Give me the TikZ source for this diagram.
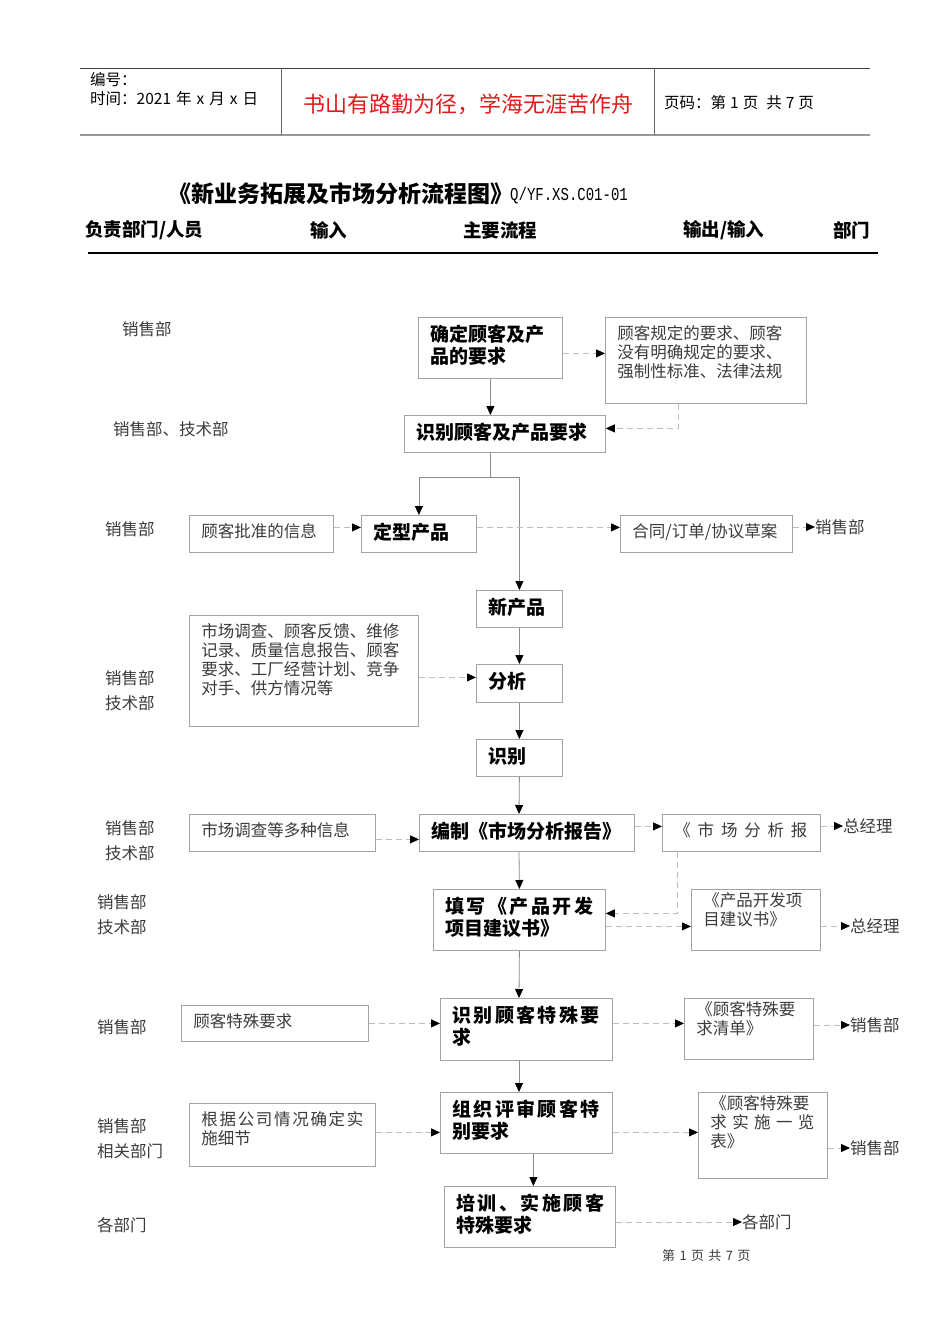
\documentclass[tikz,border=0pt]{standalone}
\usepackage{fontspec}
\setmainfont{Noto Sans CJK SC}
\newfontfamily\codefont{Liberation Mono}
\usepackage{xcolor}
\usepackage{graphicx}
\usetikzlibrary{arrows.meta,calc}
\definecolor{boxgray}{HTML}{A3A3A3}
\definecolor{flowgray}{HTML}{8C8C8C}
\definecolor{dashgray}{HTML}{BDBDBD}
\definecolor{textgray}{HTML}{3C3C3C}
\definecolor{mottored}{HTML}{E2191C}
\newcommand{\plainsize}{\fontsize{16.5}{19}\selectfont}
\newcommand{\boldsize}{\fontsize{19}{22}\selectfont\bfseries}
\newcommand{\rolesize}{\fontsize{16.5}{25}\selectfont}
\newcommand{\headsize}{\fontsize{18.5}{22}\selectfont\bfseries}
\newcommand{\cell}[4][8]{\parbox[c][#3pt][t]{#2pt}{\vspace*{#1pt}\leftskip=12pt\relax #4}}
\newcommand{\spreadline}[2]{\makebox[#1pt][s]{#2}}

\begin{document}
\begin{tikzpicture}[x=1pt,y=-1pt,
  flowbox/.style={draw=boxgray,line width=0.8pt,inner sep=0pt,anchor=north west,font=\boldsize},
  inbox/.style={flowbox,font=\plainsize,text=textgray},
  role/.style={anchor=west,inner sep=0pt,align=left,font=\rolesize,text=textgray},
  colhead/.style={anchor=west,inner sep=0pt,font=\headsize},
  flow/.style={draw=flowgray,line width=0.8pt,-{Triangle[length=9pt,width=8pt,color=black]}},
  dashflow/.style={flow,draw=dashgray,dash pattern=on 6pt off 4pt}]
  \useasboundingbox[fill=white] (0,0) rectangle (950,1344);

  % page head
  \draw[black!75,line width=0.9pt] (80,68) -- (870,68);
  \draw[black!40,line width=1.5pt] (80,135) -- (870,135);
  \foreach \x in {281,654} \draw[black!60,line width=0.9pt] (\x,68) -- (\x,135);
  \node[anchor=west,inner sep=0pt,font=\fontsize{15.5}{18}\selectfont] (hnum) at (90,80) {编号：};
  \node[anchor=west,inner sep=0pt,font=\fontsize{15.5}{18}\selectfont] (hdate) at (90,99) {时间：2021\hspace{5pt}年\hspace{5pt}x\hspace{5pt}月\hspace{5pt}x\hspace{5pt}日};
  \node[inner sep=0pt,font=\fontsize{22}{26}\selectfont,text=mottored] (motto) at (468,104) {书山有路勤为径，学海无涯苦作舟};
  \node[anchor=west,inner sep=0pt,font=\fontsize{15.5}{18}\selectfont] (hpage) at (664,103) {页码：第\hspace{4pt}1\hspace{4pt}页\hspace{8pt}共\hspace{4pt}7\hspace{4pt}页};

  % title and columns
  \node[anchor=west,inner sep=0pt,font=\fontsize{23}{27}\selectfont\bfseries] (title) at (168,194) {《新业务拓展及市场分析流程图》};
  \node[anchor=west,inner sep=0pt,font=\codefont\fontsize{14}{16}\selectfont] (code) at (510,196) {\scalebox{1}[1.3]{Q/YF.XS.C01-01}};
  \node[colhead] (col1) at (85,230) {负责部门/人员};
  \node[colhead] (col2) at (310,230) {输入};
  \node[colhead] (col3) at (463,230) {主要流程};
  \node[colhead] (col4) at (683,230) {输出/输入};
  \node[colhead] (col5) at (833,230) {部门};
  \draw[black,line width=1.6pt] (88,253) -- (878,253);

  % responsible departments
  \node[role] (dept1) at (122,329) {销售部};
  \node[role] (dept2) at (113,429) {销售部、技术部};
  \node[role] (dept3) at (105,529) {销售部};
  \node[role] (dept4) at (105,690.5) {销售部\\技术部};
  \node[role] (dept5) at (105,840.5) {销售部\\技术部};
  \node[role] (dept6) at (97,914.5) {销售部\\技术部};
  \node[role] (dept7) at (97,1027) {销售部};
  \node[role] (dept8) at (97,1138.5) {销售部\\相关部门};
  \node[role] (dept9) at (97,1225) {各部门};

  % main process
  \node[flowbox] (b1) at (418,317) {\cell{144}{61}{确定顾客及产\\品的要求}};
  \node[flowbox] (b2) at (404,415) {\cell{201}{37}{识别顾客及产品要求}};
  \node[flowbox] (b3) at (361,515) {\cell{115}{37}{定型产品}};
  \node[flowbox] (b4) at (476,590) {\cell{86}{37}{新产品}};
  \node[flowbox] (b5) at (476,664) {\cell{86}{38}{分析}};
  \node[flowbox] (b6) at (476,739) {\cell{86}{37}{识别}};
  \node[flowbox] (b7) at (419,814) {\cell{215}{37}{编制《市场分析报告》}};
  \node[flowbox] (b8) at (433,889) {\cell{172}{61}{\spreadline{148}{填\hfill 写\hfill 《\hfill 产\hfill 品\hfill 开\hfill 发}\\项目建议书》}};
  \node[flowbox] (b9) at (440,998) {\cell{172}{62}{\spreadline{147}{识\hfill 别\hfill 顾\hfill 客\hfill 特\hfill 殊\hfill 要}\\求}};
  \node[flowbox] (b10) at (440,1092) {\cell{172}{61}{\spreadline{147}{组\hfill 织\hfill 评\hfill 审\hfill 顾\hfill 客\hfill 特}\\别要求}};
  \node[flowbox] (b11) at (444,1186) {\cell{171}{61}{\spreadline{148}{培\hfill 训\hfill 、\hfill 实\hfill 施\hfill 顾\hfill 客}\\特殊要求}};

  % inputs
  \node[inbox] (in3) at (189,515) {\cell{144}{37}{顾客批准的信息}};
  \node[inbox] (in5) at (189,615) {\cell{229}{111}{市场调查、顾客反馈、维修\\记录、质量信息报告、顾客\\要求、工厂经营计划、竞争\\对手、供方情况等}};
  \node[inbox] (in7) at (189,814) {\cell{186}{37}{市场调查等多种信息}};
  \node[inbox] (in9) at (181,1005) {\cell{187}{36}{顾客特殊要求}};
  \node[inbox] (in10) at (189,1103) {\cell{186}{63}{\spreadline{162}{根\hfill 据\hfill 公\hfill 司\hfill 情\hfill 况\hfill 确\hfill 定\hfill 实}\\施细节}};

  % outputs
  \node[inbox] (res1) at (605,317) {\cell{201}{86}{顾客规定的要求、顾客\\没有明确规定的要求、\\强制性标准、法律法规}};
  \node[inbox] (res3) at (620,515) {\cell{172}{37}{合同/订单/协议草案}};
  \node[inbox] (res7) at (662,814) {\cell{158}{37}{\spreadline{133}{《\hfill 市\hfill 场\hfill 分\hfill 析\hfill 报}}};
  \node[inbox] (res8) at (691,889) {\cell{129}{61}{\kern-5pt《产品开发项\\目建议书》}};
  \node[inbox] (res9) at (684,998) {\cell{129}{61}{\kern-5pt《顾客特殊要\\求清单》}};
  \node[inbox] (res10) at (698,1092) {\cell{129}{86}{\kern-5pt《顾客特殊要\\\spreadline{104}{求\hfill 实\hfill 施\hfill 一\hfill 览}\\表》}};

  % receiving departments
  \node[role] (out3) at (815,527) {销售部};
  \node[role] (out7) at (843,826) {总经理};
  \node[role] (out8) at (850,926) {总经理};
  \node[role] (out9) at (850,1025) {销售部};
  \node[role] (out10) at (850,1148) {销售部};
  \node[role] (out11) at (742,1222) {各部门};

  \node[anchor=west,inner sep=0pt,font=\fontsize{13}{15}\selectfont,text=textgray] (foot) at (662,1256) {第\,\,1\,\,页\,\,共\,\,7\,\,页};

  % solid connectors
  \coordinate (fork) at (490,477);
  \coordinate (spine) at (519,0);
  \draw[flow] (b1.south) -- (b1.south |- b2.north);
  \draw[flow] (fork |- b2.south) -- (fork) -| (b3.north);
  \draw[flow] (fork) -| (b4.north);
  \draw[flow] (b4.south) -- (b5.north);
  \draw[flow] (b5.south) -- (b6.north);
  \draw[flow] (b6.south) -- (spine |- b7.north);
  \draw[flow] (spine |- b7.south) -- (b8.north);
  \draw[flow] (b8.south) -- (spine |- b9.north);
  \draw[flow] (spine |- b9.south) -- (spine |- b10.north);
  \draw[flow] ([xshift=7pt]b10.south) -- ([xshift=7pt]b10.south |- b11.north);

  % dashed connectors
  \draw[dashflow] ([yshift=-5.5pt]b1.east) -- ([yshift=-5.5pt]b1.east -| res1.west);
  \draw[dashflow] ([xshift=-28pt]res1.south) |- ([yshift=5.5pt]b2.east);
  \draw[dashflow] ([yshift=6.5pt]in3.east) -- ([yshift=6.5pt]b3.west);
  \draw[dashflow] ([yshift=6.5pt]b3.east) -- ([yshift=6.5pt]res3.west);
  \draw[dashflow] (res3.east |- out3.west) -- (out3.west);
  \draw[dashflow] ([yshift=6pt]b5.west -| in5.east) -- ([yshift=6pt]b5.west);
  \draw[dashflow] ([yshift=-6.5pt]in7.east) -- ([yshift=-6.5pt]b7.west);
  \draw[dashflow] ([yshift=6.5pt]b7.east) -- ([yshift=6.5pt]res7.west);
  \draw[dashflow] (res7.east |- out7.west) -- (out7.west);
  \draw[dashflow] ([xshift=-64pt]res7.south) |- ([yshift=6.5pt]b8.east);
  \draw[dashflow] ([yshift=-6.5pt]b8.east) -- ([yshift=-6.5pt]b8.east -| res8.west);
  \draw[dashflow] (res8.east |- out8.west) -- (out8.west);
  \draw[dashflow] (in9.east) -- (in9.east -| b9.west);
  \draw[dashflow] ([yshift=6pt]b9.east) -- ([yshift=6pt]b9.east -| res9.west);
  \draw[dashflow] (res9.east |- out9.west) -- (out9.west);
  \draw[dashflow] ([yshift=-9.5pt]b10.west -| in10.east) -- ([yshift=-9.5pt]b10.west);
  \draw[dashflow] ([yshift=-9.5pt]b10.east) -- ([yshift=-9.5pt]b10.east -| res10.west);
  \draw[dashflow] (res10.east |- out10.west) -- (out10.west);
  \draw[dashflow] (b11.east |- out11.west) -- (out11.west);
\end{tikzpicture}
\end{document}
